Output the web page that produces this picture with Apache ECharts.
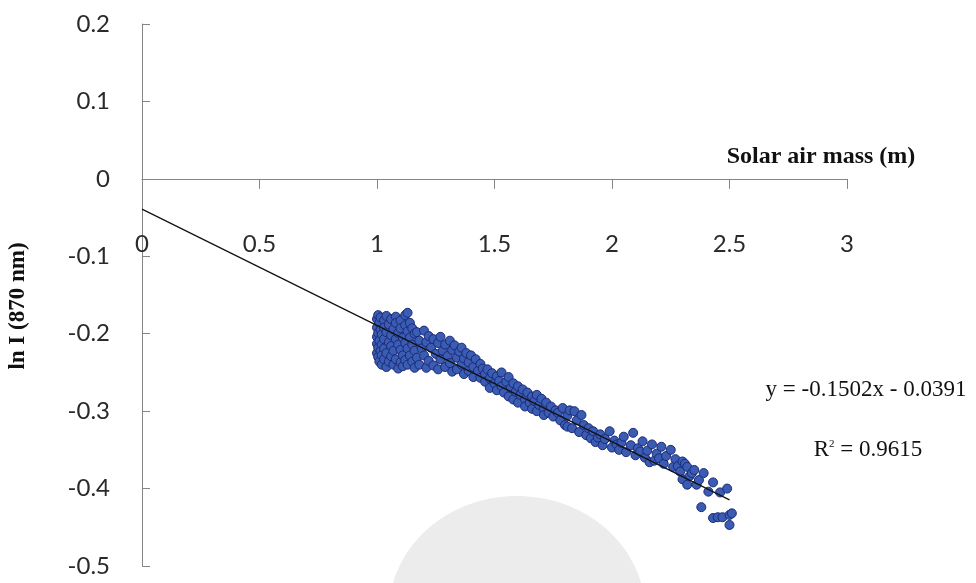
<!DOCTYPE html>
<html>
<head>
<meta charset="utf-8">
<script src="https://cdn.jsdelivr.net/npm/echarts@6/dist/echarts.min.js"></script>
<style>html,body{margin:0;padding:0;background:#fff;}#c{width:976px;height:583px;}</style>
</head>
<body>
<div id="c"></div>
<script>
// Axis ticks
var xTicks = [0, 0.5, 1, 1.5, 2, 2.5, 3];
var yTicks = [-0.5, -0.4, -0.3, -0.2, -0.1, 0, 0.1, 0.2];

// Observations: solar air mass (m)
var airMass = [
 1.00,1.00,1.00,1.00,1.00, 1.005,1.005,1.005,1.005, 1.01,1.01,1.01, 1.015,1.015,1.015,
 1.02,1.02,1.02,1.02, 1.03,1.03,1.03,1.03,1.03, 1.04,1.04,1.04,1.04, 1.05,1.05,1.05,
 1.06,1.06,1.06,1.06, 1.07,1.07,1.07, 1.08,1.08,1.08,1.08, 1.09,1.09,1.09,
 1.10,1.10,1.10,1.10, 1.11,1.11,1.11, 1.12,1.12,1.12,1.12, 1.13,1.13,1.13,1.13,
 1.14,1.14,1.14, 1.15,1.15,1.15, 1.16,1.16,1.16,
 1.17,1.17,1.18,1.18,1.19,1.20,1.20,1.21,1.21,1.22,1.22,1.23,1.24,1.24,1.25,1.26,
 1.26,1.27,1.27,1.28,1.29,1.29,1.30,1.31,1.31,1.32,1.32,1.33,1.34,1.34,1.35,1.36,
 1.36,1.37,1.37,1.38,1.39,1.39,1.40,1.41,1.41,1.42,1.43,1.44,1.44,1.45,1.46,1.46,
 1.47,1.48,1.48,1.49,1.50,1.51,1.51,1.52,1.53,1.53,1.54,1.55,1.56,1.56,1.57,1.58,
 1.58,1.59,1.60,1.60,1.61,1.62,1.63,1.63,1.64,1.65,1.66,1.66,1.67,1.68,1.68,1.69,
 1.70,1.71,1.71,1.72,1.73,1.74,1.75,1.76,
 1.77,1.78,1.79,1.80,1.81,1.81,1.82,1.83,1.84,1.85,1.86,1.87,1.88,1.89,1.90,1.91,
 1.92,1.93,1.94,1.95,1.96,1.97,1.99,2.00,2.01,2.02,2.03,2.04,2.05,2.06,2.08,2.09,
 2.10,2.11,2.12,2.13,2.14,2.15,2.16,2.17,2.18,2.19,2.20,2.21,2.22,2.23,2.25,2.26,2.27,
 2.28,2.29,2.30,2.30,2.31,2.32,2.32,2.33,2.34,2.35,
 2.36,2.37,2.39,2.41,2.43,2.46,2.49,2.38,
 2.43,2.45,2.47,2.50,2.50,2.51
];
// Observations: ln I (870 nm)
var lnI = [
 -0.181,-0.192,-0.204,-0.213,-0.225, -0.176,-0.199,-0.218,-0.230, -0.186,-0.209,-0.236, -0.179,-0.195,-0.222,
 -0.201,-0.214,-0.228,-0.240, -0.183,-0.192,-0.207,-0.219,-0.233, -0.177,-0.198,-0.225,-0.243, -0.188,-0.211,-0.236,
 -0.181,-0.202,-0.216,-0.229, -0.194,-0.222,-0.240, -0.178,-0.186,-0.207,-0.233, -0.199,-0.214,-0.245,
 -0.183,-0.193,-0.221,-0.237, -0.205,-0.228,-0.242, -0.176,-0.189,-0.212,-0.234, -0.173,-0.197,-0.219,-0.240,
 -0.186,-0.205,-0.228, -0.193,-0.214,-0.236, -0.200,-0.222,-0.244,
 -0.198,-0.231,-0.209,-0.240,-0.219,-0.196,-0.228,-0.211,-0.244,-0.203,-0.235,-0.218,-0.207,-0.241,-0.226,-0.212,
 -0.246,-0.204,-0.233,-0.222,-0.214,-0.243,-0.229,-0.209,-0.238,-0.221,-0.249,-0.215,-0.231,-0.246,-0.223,-0.218,
 -0.240,-0.232,-0.252,-0.225,-0.237,-0.248,-0.228,-0.243,-0.256,-0.233,-0.248,-0.239,-0.257,-0.245,-0.252,-0.262,
 -0.246,-0.258,-0.270,-0.251,-0.264,-0.255,-0.273,-0.261,-0.250,-0.268,-0.276,-0.262,-0.256,-0.281,-0.270,-0.264,
 -0.285,-0.275,-0.268,-0.289,-0.279,-0.272,-0.285,-0.294,-0.276,-0.289,-0.281,-0.297,-0.287,-0.279,-0.300,-0.292,
 -0.284,-0.297,-0.305,-0.289,-0.302,-0.294,-0.307,-0.299,
 -0.302,-0.312,-0.296,-0.318,-0.306,-0.320,-0.299,-0.322,-0.300,-0.312,-0.327,-0.305,-0.318,-0.331,-0.322,-0.335,
 -0.326,-0.340,-0.334,-0.330,-0.344,-0.336,-0.326,-0.347,-0.338,-0.343,-0.350,-0.341,-0.333,-0.353,-0.344,-0.328,
 -0.357,-0.348,-0.352,-0.339,-0.360,-0.351,-0.366,-0.343,-0.364,-0.355,-0.361,-0.346,-0.368,-0.358,-0.350,-0.372,-0.362,
 -0.371,-0.378,-0.365,-0.388,-0.368,-0.372,-0.395,-0.384,-0.380,-0.376,
 -0.395,-0.389,-0.380,-0.404,-0.392,-0.405,-0.400,-0.424,
 -0.438,-0.437,-0.437,-0.434,-0.447,-0.432
];
// Linear fit y = -0.1502x - 0.0391, drawn between these air-mass bounds
var fitX = [0, 2.5];
var fitY = [-0.0391, -0.4146];

var n = Math.min(airMass.length, lnI.length);
var scatterData = [];
for (var i = 0; i < n; i++) scatterData.push([airMass[i], lnI[i]]);
var fitData = fitX.map(function (x, i) { return [x, fitY[i]]; });

var chart = echarts.init(document.getElementById('c'), null, {renderer: 'canvas'});
chart.setOption({
  animation: false,
  backgroundColor: '#ffffff',
  grid: {left: 142, right: 129, top: 24, bottom: 17, containLabel: false, outerBoundsMode: 'none'},
  xAxis: {
    type: 'value',
    min: xTicks[0], max: xTicks[xTicks.length - 1], interval: xTicks[1] - xTicks[0],
    axisLine: {onZero: true, lineStyle: {color: '#858585', width: 1}},
    axisTick: {show: true, inside: false, length: 10, lineStyle: {color: '#858585'}},
    axisLabel: {show: true, margin: -334, hideOverlap: false, fontSize: 24, color: '#2a2a2a', fontFamily: 'Lato'},
    splitLine: {show: false}
  },
  yAxis: {
    type: 'value',
    min: yTicks[0], max: yTicks[yTicks.length - 1], interval: 0.1,
    axisLine: {show: true, lineStyle: {color: '#858585', width: 1}},
    axisTick: {show: true, inside: true, length: 8, lineStyle: {color: '#858585'}},
    axisLabel: {margin: 32, fontSize: 24, color: '#2a2a2a', fontFamily: 'Lato',
      formatter: function (v) { return String(Math.round(v * 10) / 10); }},
    splitLine: {show: false}
  },
  graphic: [
    {type: 'ellipse', z: -10, silent: true, shape: {cx: 517, cy: 612, rx: 128, ry: 116}, style: {fill: '#ececec'}},
    {type: 'text', x: 18, y: 306, rotation: Math.PI / 2,
      style: {text: 'ln I (870 nm)', font: 'bold 23px "Liberation Serif"', fill: '#111', align: 'center', verticalAlign: 'middle'}},
    {type: 'text', x: 821, y: 157,
      style: {text: 'Solar air mass (m)', font: 'bold 24px "Liberation Serif"', fill: '#111', align: 'center', verticalAlign: 'middle'}},
    {type: 'text', x: 866, y: 390,
      style: {text: 'y = -0.1502x - 0.0391', font: '23px "Liberation Serif"', fill: '#111', align: 'center', verticalAlign: 'middle'}},
    {type: 'text', x: 868, y: 450,
      style: {text: '{a|R}{s|2}{a| = 0.9615}', align: 'center', verticalAlign: 'middle',
        rich: {a: {font: '23px "Liberation Serif"', fill: '#111'}, s: {font: '11px "Liberation Serif"', fill: '#111', verticalAlign: 'top', padding: [0, 0, 8, 0]}}}}
  ],
  series: [
    {
      type: 'scatter',
      data: scatterData,
      symbol: 'circle',
      symbolSize: 9,
      itemStyle: {color: '#3a5cb2', borderColor: '#1b2a78', borderWidth: 1, opacity: 1},
      z: 2
    },
    {
      type: 'line',
      data: fitData,
      symbol: 'none',
      lineStyle: {color: '#111', width: 1.2},
      z: 3
    }
  ]
});
</script>
</body>
</html>
